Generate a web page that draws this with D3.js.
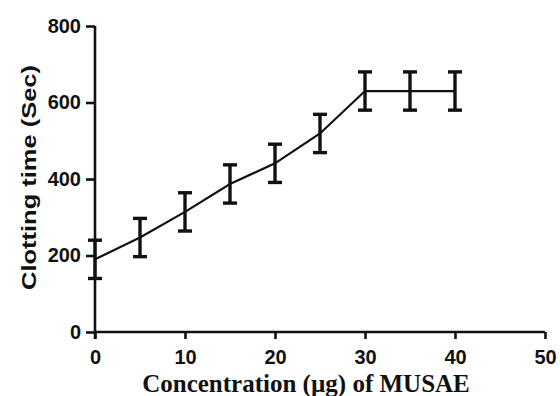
<!DOCTYPE html>
<html>
<head>
<meta charset="utf-8">
<script src="https://cdn.jsdelivr.net/npm/d3@7"></script>
<style>
  html, body { margin: 0; padding: 0; background: #fff; }
  svg { display: block; }
</style>
</head>
<body>
<svg id="chart" width="560" height="396"></svg>
<script>
// Clotting time vs MUSAE concentration (mean ± error)
const concentrations = [0, 5, 10, 15, 20, 25, 30, 35, 40];
const clottingMeans  = [190, 247, 314, 387, 441, 519, 630, 630, 630];
const clottingErrors = [50, 50, 50, 50, 50, 50, 50, 50, 50];
const xTicks = [0, 10, 20, 30, 40, 50];
const yTicks = [0, 200, 400, 600, 800];

const svg = d3.select("#chart");
const x = d3.scaleLinear().domain([0, 50]).range([95, 545]);
const y = d3.scaleLinear().domain([0, 800]).range([332, 26]);

const points = concentrations.map((c, i) => ({ x: c, m: clottingMeans[i], e: clottingErrors[i] }));

// Axes
const xAxis = svg.append("g")
  .attr("transform", `translate(0,${y(0)})`)
  .call(d3.axisBottom(x).tickValues(xTicks).tickSizeOuter(0).tickSize(7).tickPadding(11));
const yAxis = svg.append("g")
  .attr("transform", `translate(${x(0)},0)`)
  .call(d3.axisLeft(y).tickValues(yTicks).tickSizeOuter(0).tickSize(9).tickPadding(5));

[xAxis, yAxis].forEach(g => {
  g.select(".domain").attr("stroke", "#111").attr("stroke-width", 2.6);
  g.selectAll(".tick line").attr("stroke", "#111").attr("stroke-width", 2.6);
  g.selectAll(".tick text")
    .attr("fill", "#111")
    .style("font-family", "Liberation Sans, Arial, sans-serif")
    .style("font-weight", "bold")
    .style("font-size", "20px");
});
xAxis.select(".domain").attr("d", `M${x(0) - 1.3},0H${x(50)}`);
yAxis.select(".domain").attr("d", `M0,${y(800)}V${y(0) + 7}`);

// Connecting line
svg.append("path")
  .datum(points)
  .attr("fill", "none")
  .attr("stroke", "#111")
  .attr("stroke-width", 2.2)
  .attr("d", d3.line().x(d => x(d.x)).y(d => y(d.m)));

// Error bars
const eb = svg.append("g").attr("stroke", "#111").attr("stroke-width", 3.4);
const cap = 7;
points.forEach(d => {
  eb.append("line").attr("x1", x(d.x)).attr("x2", x(d.x))
    .attr("y1", y(d.m - d.e)).attr("y2", y(d.m + d.e));
  eb.append("line").attr("x1", x(d.x) - cap).attr("x2", x(d.x) + cap)
    .attr("y1", y(d.m + d.e)).attr("y2", y(d.m + d.e));
  eb.append("line").attr("x1", x(d.x) - cap).attr("x2", x(d.x) + cap)
    .attr("y1", y(d.m - d.e)).attr("y2", y(d.m - d.e));
});

// Axis titles
svg.append("text")
  .attr("x", 306).attr("y", 392)
  .attr("text-anchor", "middle")
  .attr("fill", "#111")
  .style("font-family", "Liberation Serif, Times New Roman, serif")
  .style("font-weight", "bold")
  .style("font-size", "25px")
  .text("Concentration (µg) of MUSAE");

svg.append("text")
  .attr("transform", "translate(36,177.5) rotate(-90)")
  .attr("text-anchor", "middle")
  .attr("fill", "#111")
  .attr("textLength", 225)
  .attr("lengthAdjust", "spacingAndGlyphs")
  .style("font-family", "Liberation Sans, Arial, sans-serif")
  .style("font-weight", "bold")
  .style("font-size", "21px")
  .text("Clotting time (Sec)");
</script>
</body>
</html>
